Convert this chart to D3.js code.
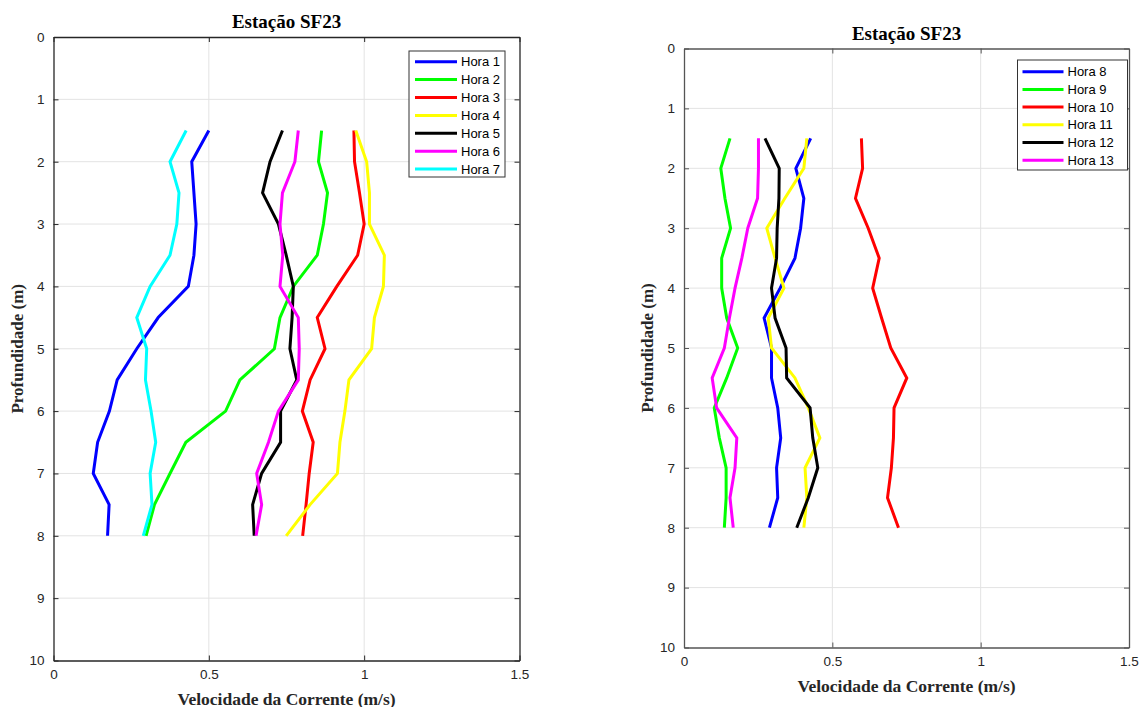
<!DOCTYPE html>
<html><head><meta charset="utf-8">
<script src="https://cdn.jsdelivr.net/npm/d3@7"></script>
<style>body{margin:0;background:#fff}svg{display:block}</style>
</head><body>
<svg id="chart" width="1139" height="707"></svg>
<script>
const depths = [1.5,2,2.5,3,3.5,4,4.5,5,5.5,6,6.5,7,7.5,8];
const xTicks = [0,0.5,1,1.5];
const yTicks = [0,1,2,3,4,5,6,7,8,9,10];
const colors = ["#0000ff","#00ff00","#ff0000","#ffff00","#000000","#ff00ff","#00ffff"];

const namesLeft = ["Hora 1","Hora 2","Hora 3","Hora 4","Hora 5","Hora 6","Hora 7"];
const hora1 = [0.50,0.445,0.452,0.459,0.452,0.434,0.337,0.268,0.205,0.18,0.142,0.128,0.179,0.174];
const hora2 = [0.863,0.853,0.882,0.869,0.849,0.772,0.729,0.711,0.60,0.554,0.426,0.375,0.325,0.298];
const hora3 = [0.967,0.969,0.985,1.0,0.979,0.912,0.849,0.874,0.826,0.801,0.836,0.823,0.813,0.802];
const hora4 = [0.973,1.008,1.017,1.017,1.065,1.062,1.033,1.024,0.951,0.938,0.922,0.914,0.826,0.749];
const hora5 = [0.737,0.697,0.673,0.724,0.749,0.772,0.768,0.761,0.783,0.731,0.731,0.670,0.641,0.646];
const hora6 = [0.788,0.777,0.737,0.729,0.738,0.729,0.788,0.791,0.788,0.724,0.692,0.654,0.670,0.652];
const hora7 = [0.427,0.375,0.404,0.397,0.375,0.311,0.268,0.30,0.296,0.314,0.329,0.311,0.317,0.289];

const namesRight = ["Hora 8","Hora 9","Hora 10","Hora 11","Hora 12","Hora 13"];
const hora8 = [0.427,0.377,0.404,0.393,0.374,0.324,0.270,0.295,0.295,0.316,0.326,0.312,0.316,0.288];
const hora9 = [0.155,0.124,0.138,0.157,0.127,0.127,0.144,0.181,0.144,0.102,0.119,0.142,0.142,0.136];
const hora10 = [0.598,0.602,0.578,0.621,0.658,0.636,0.666,0.697,0.751,0.708,0.706,0.699,0.686,0.723];
const hora11 = [0.414,0.404,0.340,0.279,0.307,0.337,0.284,0.295,0.374,0.419,0.458,0.408,0.414,0.404];
const hora12 = [0.273,0.321,0.320,0.314,0.312,0.295,0.307,0.344,0.346,0.425,0.434,0.451,0.419,0.380];
const hora13 = [0.251,0.251,0.248,0.215,0.195,0.172,0.153,0.136,0.095,0.110,0.178,0.172,0.155,0.166];

const svg = d3.select("#chart");

function panel(cfg){
  const g = svg.append("g");
  const x = d3.scaleLinear().domain([0,1.5]).range([cfg.left,cfg.right]);
  const y = d3.scaleLinear().domain([0,10]).range([cfg.top,cfg.bottom]);
  // grid
  g.append("g").selectAll("line.gx").data(xTicks.slice(1,-1)).join("line")
    .attr("x1",d=>x(d)).attr("x2",d=>x(d)).attr("y1",cfg.top).attr("y2",cfg.bottom)
    .attr("stroke","#e3e3e3").attr("stroke-width",1);
  g.append("g").selectAll("line.gy").data(yTicks.slice(1,-1)).join("line")
    .attr("y1",d=>y(d)).attr("y2",d=>y(d)).attr("x1",cfg.left).attr("x2",cfg.right)
    .attr("stroke","#e3e3e3").attr("stroke-width",1);
  // lines
  const line = d3.line().x(d=>x(d[0])).y(d=>y(d[1]));
  cfg.series.forEach((s,i)=>{
    g.append("path").datum(s.map((v,j)=>[v,depths[j]]))
      .attr("d",line).attr("fill","none").attr("stroke",colors[i])
      .attr("stroke-width",3).attr("stroke-linejoin","miter");
  });
  // axes
  const ax = cfg.axisColor;
  const xb = d3.axisBottom(x).tickValues(xTicks).tickFormat(d3.format("")).tickSizeInner(-5).tickSizeOuter(0).tickPadding(9);
  const xt = d3.axisTop(x).tickValues(xTicks).tickFormat("").tickSizeInner(-5).tickSizeOuter(0);
  const yl = d3.axisLeft(y).tickValues(yTicks).tickSizeInner(-5).tickSizeOuter(0).tickPadding(9);
  const yr = d3.axisRight(y).tickValues(yTicks).tickFormat("").tickSizeInner(-5).tickSizeOuter(0);
  const style = sel => {
    sel.selectAll("path.domain").attr("stroke",ax).attr("stroke-width",1.3);
    sel.selectAll(".tick line").attr("stroke",ax);
    sel.selectAll(".tick text").attr("fill","#262626").style("font-family","'Liberation Sans',Arial,sans-serif").style("font-size","13.5px");
  };
  g.append("g").attr("transform",`translate(0,${cfg.bottom})`).call(xb).call(style);
  g.append("g").attr("transform",`translate(0,${cfg.top})`).call(xt).call(style);
  g.append("g").attr("transform",`translate(${cfg.left},0)`).call(yl).call(style);
  g.append("g").attr("transform",`translate(${cfg.right},0)`).call(yr).call(style);
  // title & labels
  const cx = (cfg.left+cfg.right)/2;
  g.append("text").attr("x",cx).attr("y",cfg.top-9).attr("text-anchor","middle")
    .style("font-family","'Liberation Serif','Times New Roman',serif").style("font-weight","bold").style("font-size","19px")
    .attr("fill","#000").text("Estação SF23");
  g.append("text").attr("x",cx).attr("y",cfg.bottom+44).attr("text-anchor","middle")
    .style("font-family","'Liberation Serif','Times New Roman',serif").style("font-weight","bold").style("font-size","17.5px")
    .attr("fill","#262626").text("Velocidade da Corrente (m/s)");
  g.append("text").attr("transform",`translate(${cfg.left-31},${(cfg.top+cfg.bottom)/2}) rotate(-90)`).attr("text-anchor","middle")
    .style("font-family","'Liberation Serif','Times New Roman',serif").style("font-weight","bold").style("font-size","17px")
    .attr("fill","#262626").text("Profundidade (m)");
  // legend
  const L = cfg.legend;
  g.append("rect").attr("x",L.x).attr("y",L.y).attr("width",L.w).attr("height",L.h)
    .attr("fill","#fff").attr("stroke","#333").attr("stroke-width",1);
  const items = g.append("g").selectAll("g").data(cfg.names).join("g")
    .attr("transform",(d,i)=>`translate(${L.x},${L.y+L.first+i*L.step})`);
  items.append("line").attr("x1",L.lx1).attr("x2",L.lx2).attr("stroke",(d,i)=>colors[i]).attr("stroke-width",3);
  items.append("text").attr("x",L.tx).attr("y",4.5).text(d=>d)
    .style("font-family","'Liberation Sans',Arial,sans-serif").style("font-size","13px").attr("fill","#000");
}

panel({left:53.5,right:519.5,top:37,bottom:660.5,axisColor:"#262626",
  series:[hora1,hora2,hora3,hora4,hora5,hora6,hora7],names:namesLeft,
  legend:{x:409,y:51,w:96,h:126,first:10.7,step:17.9,lx1:6,lx2:48,tx:52}});
panel({left:684,right:1129,top:48.5,bottom:647.5,axisColor:"#555",
  series:[hora8,hora9,hora10,hora11,hora12,hora13],names:namesRight,
  legend:{x:1017.5,y:60,w:110,h:110,first:11.7,step:17.7,lx1:5,lx2:46,tx:50}});
</script>
</body></html>
